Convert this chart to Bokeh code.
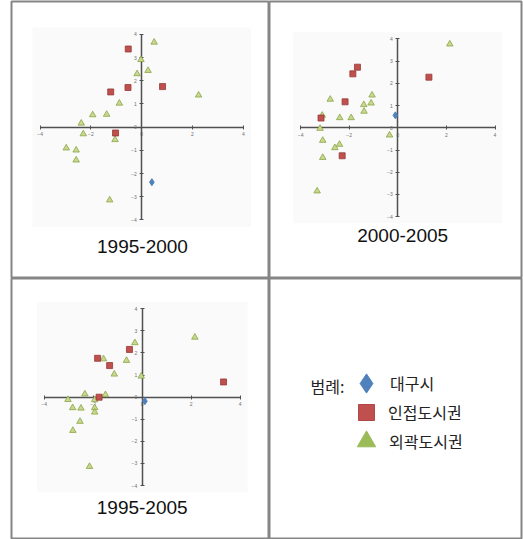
from bokeh.plotting import figure
from bokeh.models import (LinearAxis, FixedTicker, Range1d, Label, Legend,
                          LegendItem, BoxAnnotation)
from bokeh.layouts import column, row
from bokeh.embed import file_html
from bokeh.resources import INLINE

# ---------------- data ----------------
series_names = ["대구시", "인접도시권", "외곽도시권"]
period_labels = ["1995-2000", "2000-2005", "1995-2005"]
legend_title = "범례:"
x_ticks = [-4, -2, 0, 2, 4]
y_ticks = [-4, -3, -2, -1, 0, 1, 2, 3, 4]

# 1995-2000
p1_daegu_x = [0.40]
p1_daegu_y = [-2.37]
p1_adj_x = [-0.53, -1.22, -0.54, 0.82, -1.03]
p1_adj_y = [3.37, 1.52, 1.71, 1.75, -0.25]
p1_out_x = [0.49, -0.03, -0.18, 0.25, 2.24, -0.88, -1.93, -1.38, -2.38, -2.30, -1.05, -2.97, -2.58, -2.58, -1.26]
p1_out_y = [3.66, 2.91, 2.30, 2.44, 1.38, 1.03, 0.53, 0.55, 0.17, -0.29, -0.54, -0.90, -0.99, -1.42, -3.14]

# 2000-2005
p2_daegu_x = [-0.10]
p2_daegu_y = [0.56]
p2_adj_x = [-1.66, -1.85, 1.28, -2.17, -3.16, -2.29]
p2_adj_y = [2.73, 2.43, 2.28, 1.17, 0.44, -1.26]
p2_out_x = [2.14, -2.78, -1.06, -1.40, -1.10, -1.39, -2.39, -1.92, -3.11, -3.20, -3.09, -2.59, -2.40, -3.09, -0.34, -3.32]
p2_out_y = [3.77, 1.28, 1.47, 1.04, 1.11, 0.74, 0.45, 0.45, 0.56, -0.03, -0.57, -0.90, -0.75, -1.34, -0.33, -2.85]

# 1995-2005
p3_daegu_x = [0.11]
p3_daegu_y = [-0.18]
p3_adj_x = [-0.52, -1.82, -1.33, -1.76, 3.32]
p3_adj_y = [2.16, 1.76, 1.43, 0.0, 0.69]
p3_out_x = [2.15, -0.30, -0.64, -1.58, -1.14, -0.04, -2.34, -1.50, -3.03, -1.94, -2.84, -2.50, -1.94, -1.94, -2.54, -2.83, -2.15]
p3_out_y = [2.71, 2.46, 1.66, 1.73, 1.04, 0.95, 0.14, 0.11, -0.11, -0.12, -0.48, -0.50, -0.48, -0.68, -1.10, -1.51, -3.14]

# ---------------- styles ----------------
BLUE = "#4f81bd"
RED = "#c0504d"
RED_LINE = "#963a38"
GREEN_FILL = "#c8d890"
GREEN_LINE = "#8aa444"
BORDER = "#858585"
AXIS = "#505050"
TITLE_FONT = "Liberation Sans"
KR_FONT = "Noto Sans CJK KR"
NAN = float("nan")


def base_fig(fw, fh, xr, yr, left=0, top=0, right=0):
    p = figure(width=fw + left + right, height=fh + top,
               x_range=Range1d(*xr), y_range=Range1d(*yr),
               output_backend="svg", toolbar_location=None,
               min_border_left=left, min_border_top=top,
               min_border_right=right, min_border_bottom=0,
               x_axis_type=None, y_axis_type=None)
    p.outline_line_color = BORDER
    p.outline_line_width = 2
    p.background_fill_color = "white"
    p.border_fill_color = "white"
    return p


def make_panel(fw, fh, xr, yr, data, title, tx, ty, left=0, top=0, right=0):
    p = base_fig(fw, fh, xr, yr, left, top, right)
    p.add_layout(BoxAnnotation(left=-4.3, right=4.3, bottom=-4.3, top=4.3,
                               fill_color="#fafafa", fill_alpha=1.0,
                               line_color=None, level="image"))
    for loc, ticks in (("below", x_ticks), ("left", y_ticks)):
        ax = LinearAxis(fixed_location=0, bounds=(-4, 4),
                        ticker=FixedTicker(ticks=ticks, minor_ticks=[]))
        ax.axis_line_color = AXIS
        ax.axis_line_width = 1.5
        ax.major_tick_line_color = AXIS
        ax.major_tick_in = 2
        ax.major_tick_out = 2
        ax.minor_tick_line_color = None
        ax.major_label_text_font_size = "5px"
        ax.major_label_text_color = "#707070"
        ax.major_label_standoff = 3
        ax.level = "underlay"
        p.add_layout(ax, loc)
    (dx, dy), (ax_, ay_), (ox, oy) = data
    p.scatter(ox, oy, marker="triangle", size=6.5, fill_color=GREEN_FILL,
              line_color=GREEN_LINE, line_width=0.8)
    p.scatter(ax_, ay_, marker="square", size=6, fill_color=RED,
              line_color=RED_LINE, line_width=0.8)
    p.scatter(dx, dy, marker="diamond", size=7, fill_color=BLUE,
              line_color=BLUE)
    p.add_layout(Label(x=tx, y=ty, text=title, text_align="center",
                       text_baseline="middle", text_font=TITLE_FONT,
                       text_font_size="19px", text_color="#111111"))
    return p


p1 = make_panel(258, 277, (-5.126, 5.031), (-6.522, 5.418),
                ((p1_daegu_x, p1_daegu_y), (p1_adj_x, p1_adj_y), (p1_out_x, p1_out_y)),
                period_labels[0], 0.03, -5.14, left=11, top=1)
p2 = make_panel(252, 277, (-5.28, 5.09), (-6.788, 5.689),
                ((p2_daegu_x, p2_daegu_y), (p2_adj_x, p2_adj_y), (p2_out_x, p2_out_y)),
                period_labels[1], 0.2, -4.83, top=1, right=2)
p3 = make_panel(258, 261, (-5.335, 5.196), (-6.44, 5.371),
                ((p3_daegu_x, p3_daegu_y), (p3_adj_x, p3_adj_y), (p3_out_x, p3_out_y)),
                period_labels[2], 0.0, -5.01, left=11)

# legend panel
p4 = base_fig(252, 261, (0, 252), (0, 261), right=2)
r_d = p4.scatter(x=[NAN], y=[NAN], marker="diamond", fill_color=BLUE, line_color=BLUE)
r_a = p4.scatter(x=[NAN], y=[NAN], marker="square", fill_color=RED, line_color="#b0474a")
r_o = p4.scatter(x=[NAN], y=[NAN], marker="triangle", fill_color="#9bbb59", line_color="#9bbb59")

# (glyph box, location, label standoff) per legend entry
legend_layout = [(48, (73, 132), -2), (40, (77, 107), 2), (46, (74, 75), -1)]
for name, rend, (gsz, loc, stand) in zip(series_names, (r_d, r_a, r_o), legend_layout):
    lg = Legend(items=[LegendItem(label=name, renderers=[rend])],
                location=loc, orientation="vertical",
                glyph_width=gsz, glyph_height=gsz, label_standoff=stand,
                padding=0, margin=0, border_line_color=None,
                background_fill_alpha=0, label_text_font=KR_FONT,
                label_text_font_size="16px", label_text_color="#222222")
    p4.add_layout(lg)
p4.add_layout(Label(x=41, y=154, text=legend_title, text_baseline="middle",
                    text_font=KR_FONT, text_font_size="16px", text_color="#222222"))

layout = column(row(p1, p2), row(p3, p4))
open("out.html", "w").write(file_html(layout, INLINE))
